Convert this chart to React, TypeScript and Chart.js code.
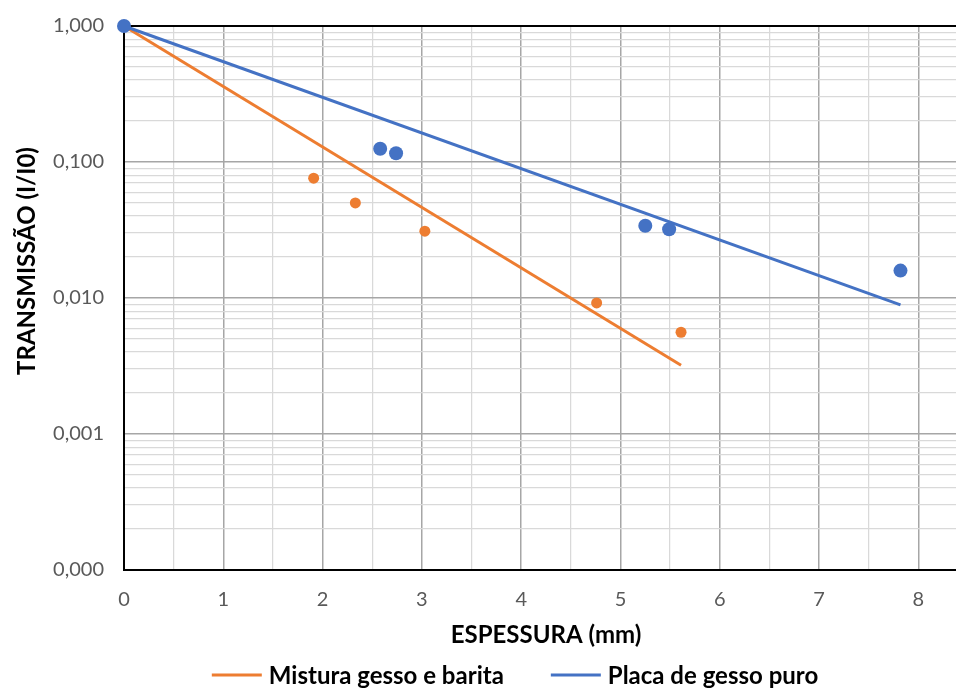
import React, { useEffect, useRef } from 'react';
import { Chart, registerables } from 'chart.js';

Chart.register(...registerables);

// Measured points (thickness in mm, transmission I/I0)
const misturaX = [0, 1.91, 2.33, 3.03, 4.76, 5.61];
const misturaY = [1.0, 0.076, 0.050, 0.031, 0.0092, 0.0056];
const placaX = [0, 2.58, 2.74, 5.25, 5.49, 7.82];
const placaY = [1.0, 0.125, 0.116, 0.034, 0.032, 0.0159];

// Exponential trend lines (straight on log scale): end points
const misturaTrendX = [0, 5.61];
const misturaTrendY = [1.0, 0.0032];
const placaTrendX = [0, 7.82];
const placaTrendY = [1.0, 0.0089];

const legendLabels = ['Mistura gesso e barita', 'Placa de gesso puro'];
const xTitle = 'ESPESSURA (mm)';
const yTitle = 'TRANSMISSÃO (I/I0)';

const xTickValues = [0, 0.5, 1, 1.5, 2, 2.5, 3, 3.5, 4, 4.5, 5, 5.5, 6, 6.5, 7, 7.5, 8, 8.5];
const yMajorTicks = [0.0001, 0.001, 0.01, 0.1, 1];
const yMajorLabels = ['0,000', '0,001', '0,010', '0,100', '1,000'];
const yMinorMultipliers = [2, 3, 4, 5, 6, 7, 8, 9];

const ORANGE = '#ED7D31';
const BLUE = '#4472C4';

const toPts = (xs: number[], ys: number[]) => xs.map((x, i) => ({ x, y: ys[i] }));

const yTickValues: number[] = [];
yMajorTicks.forEach((d, i) => {
  yTickValues.push(d);
  if (i < yMajorTicks.length - 1) yMinorMultipliers.forEach((m) => yTickValues.push(+(d * m).toPrecision(6)));
});

const legendPlugin = {
  id: 'customLegend',
  afterDraw(chart: any) {
    const ctx = chart.ctx;
    const items = [
      { text: legendLabels[0], color: ORANGE },
      { text: legendLabels[1], color: BLUE },
    ];
    const lineLen = 50;
    const gap = 7;
    const itemGap = 47;
    ctx.save();
    ctx.font = 'bold 24px Lato';
    ctx.textBaseline = 'middle';
    ctx.textAlign = 'left';
    const widths = items.map((it) => lineLen + gap + ctx.measureText(it.text).width);
    const total = widths[0] + itemGap + widths[1];
    let x = chart.width / 2 - total / 2;
    const y = 675;
    items.forEach((it, i) => {
      ctx.strokeStyle = it.color;
      ctx.lineWidth = 3;
      ctx.beginPath();
      ctx.moveTo(x, y);
      ctx.lineTo(x + lineLen, y);
      ctx.stroke();
      ctx.fillStyle = '#000000';
      ctx.fillText(it.text, x + lineLen + gap, y + 1);
      x += widths[i] + itemGap;
    });

    // Y axis title (placed slightly above the plot centre, as in the original)
    ctx.save();
    ctx.translate(27, 261);
    ctx.rotate(-Math.PI / 2);
    ctx.textAlign = 'center';
    ctx.textBaseline = 'middle';
    ctx.fillStyle = '#000000';
    ctx.font = 'bold 24px Lato';
    ctx.fillText(yTitle, 0, 0);
    ctx.restore();

    ctx.restore();
  },
};

export default function App() {
  const canvasRef = useRef<HTMLCanvasElement | null>(null);

  useEffect(() => {
    if (!canvasRef.current) return;
    const chart = new Chart(canvasRef.current, {
      type: 'scatter',
      data: {
        datasets: [
          {
            label: 'Placa de gesso puro (pontos)',
            data: toPts(placaX, placaY),
            showLine: false,
            pointRadius: 7,
            pointHoverRadius: 7,
            backgroundColor: BLUE,
            borderWidth: 0,
            clip: false as any,
          },
          {
            label: 'Mistura gesso e barita (pontos)',
            data: toPts(misturaX, misturaY),
            showLine: false,
            pointRadius: 5.5,
            pointHoverRadius: 5.5,
            backgroundColor: ORANGE,
            borderWidth: 0,
            clip: false as any,
          },
          {
            label: legendLabels[1],
            data: toPts(placaTrendX, placaTrendY),
            showLine: true,
            pointRadius: 0,
            borderColor: BLUE,
            backgroundColor: BLUE,
            borderWidth: 3,
            clip: false as any,
          },
          {
            label: legendLabels[0],
            data: toPts(misturaTrendX, misturaTrendY),
            showLine: true,
            pointRadius: 0,
            borderColor: ORANGE,
            backgroundColor: ORANGE,
            borderWidth: 3,
            clip: false as any,
          },
        ],
      },
      options: {
        animation: false,
        responsive: true,
        maintainAspectRatio: false,
        layout: { padding: { top: 26, left: 0, right: 62, bottom: 40 } },
        plugins: {
          legend: { display: false },
          tooltip: { enabled: false },
        },
        scales: {
          x: {
            type: 'linear',
            min: 0,
            max: 8.5,
            afterBuildTicks: (scale: any) => {
              scale.ticks = xTickValues.map((v) => ({ value: v }));
            },
            afterFit: (scale: any) => {
              scale.height = 79;
            },
            ticks: {
              autoSkip: false,
              maxRotation: 0,
              padding: 18,
              color: '#595959',
              font: { family: 'Lato', size: 20 },
              callback: (v: any) => (Number.isInteger(v) ? String(v) : ''),
            },
            grid: {
              drawTicks: false,
              color: (c: any) => (c.tick && Number.isInteger(c.tick.value) ? '#a6a6a6' : '#d9d9d9'),
              lineWidth: (c: any) => (c.tick && Number.isInteger(c.tick.value) ? 1.5 : 1.25),
            },
            border: { color: '#000000', width: 2 },
            title: {
              display: true,
              text: xTitle,
              color: '#000000',
              font: { family: 'Lato', size: 24, weight: 'bold' },
              padding: { top: 0, bottom: -1 },
            },
          },
          y: {
            type: 'logarithmic',
            min: 0.0001,
            max: 1,
            afterBuildTicks: (scale: any) => {
              scale.ticks = yTickValues.map((v) => ({ value: v }));
            },
            afterFit: (scale: any) => {
              scale.width = 124;
              scale.paddingTop = 0;
              scale.paddingBottom = 0;
            },
            ticks: {
              autoSkip: false,
              padding: 20,
              color: '#595959',
              font: { family: 'Lato', size: 20 },
              callback: (v: any) => {
                const idx = yMajorTicks.findIndex((m) => Math.abs(m - v) / m < 1e-6);
                return idx >= 0 ? yMajorLabels[idx] : '';
              },
            },
            grid: {
              drawTicks: false,
              color: (c: any) => {
                const v = c.tick ? c.tick.value : 0;
                if (Math.abs(v - 1) < 1e-9) return '#000000';
                return yMajorTicks.some((m) => Math.abs(m - v) / m < 1e-6) ? '#a6a6a6' : '#d9d9d9';
              },
              lineWidth: (c: any) => {
                const v = c.tick ? c.tick.value : 0;
                if (Math.abs(v - 1) < 1e-9) return 2;
                return yMajorTicks.some((m) => Math.abs(m - v) / m < 1e-6) ? 1.5 : 1.25;
              },
            },
            border: { color: '#000000', width: 2 },
            title: { display: false },
          },
        },
      } as any,
      plugins: [legendPlugin],
    });
    return () => chart.destroy();
  }, []);

  return (
    <div style={{ position: 'fixed', left: 0, top: 0, width: 956, height: 689, overflow: 'hidden', background: '#ffffff' }}>
      <div style={{ position: 'relative', width: 1030, height: 689 }}>
        <canvas ref={canvasRef} />
      </div>
    </div>
  );
}
